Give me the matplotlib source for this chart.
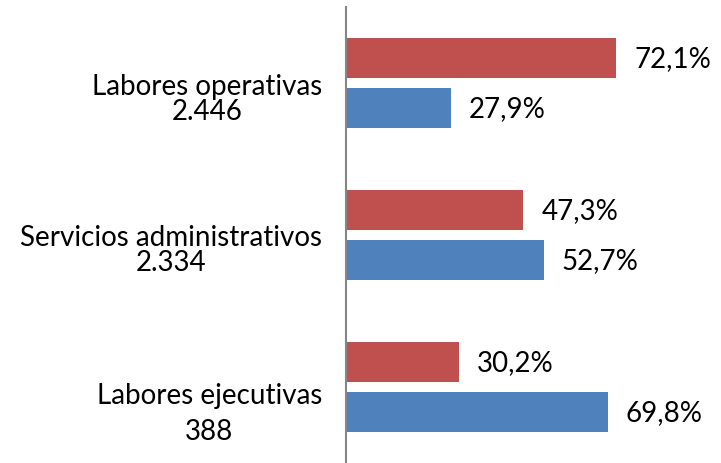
import numpy as np
import matplotlib
matplotlib.use('Agg')
import matplotlib.pyplot as plt

categories = ['Labores operativas', 'Servicios administrativos', 'Labores ejecutivas']
totals = ['2.446', '2.334', '388']
red_vals = [72.1, 47.3, 30.2]
blue_vals = [27.9, 52.7, 69.8]

RED = '#C0504D'
BLUE = '#4F81BD'

plt.rcParams['font.family'] = ['Lato', 'DejaVu Sans']

fig = plt.figure(figsize=(7.21, 4.64), dpi=100)
ax = fig.add_axes([346 / 721, 0, 375 / 721, 456 / 464])

y = np.arange(len(categories))
h = 0.263
off = 0.165
ax.barh(y - off, red_vals, height=h, color=RED)
ax.barh(y + off, blue_vals, height=h, color=BLUE)

for i in range(len(categories)):
    ax.text(red_vals[i] + 4.8, y[i] - off, f'{red_vals[i]:.1f}%'.replace('.', ','),
            va='center', ha='left', fontsize=20, color='#000000')
    ax.text(blue_vals[i] + 4.8, y[i] + off, f'{blue_vals[i]:.1f}%'.replace('.', ','),
            va='center', ha='left', fontsize=20, color='#000000')

# category labels with totals underneath
spacing = [0.97, 0.97, 1.5]
shift = [0.1, 0.095, 0.17]
for i in range(len(categories)):
    ax.text(-0.064, y[i] + shift[i],
            categories[i] + '\n' + totals[i],
            transform=ax.get_yaxis_transform(), ha='right', va='center',
            multialignment='center', linespacing=spacing[i],
            fontsize=20, color='#000000')

ax.set_xlim(0, 100)
ax.set_ylim(2.5, -0.5)
ax.set_xticks([])
ax.set_yticks([])
for s in ['top', 'right', 'bottom']:
    ax.spines[s].set_visible(False)
ax.spines['left'].set_color('#868686')
ax.spines['left'].set_linewidth(1.5)

fig.savefig('out.png', dpi=100)
